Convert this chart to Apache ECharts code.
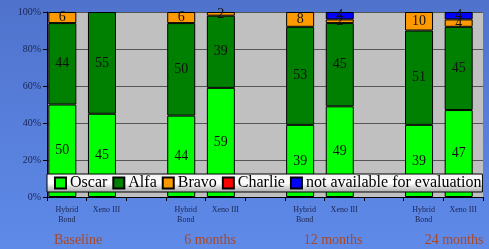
<!DOCTYPE html>
<html>
<head>
<meta charset="utf-8">
<script src="https://cdn.jsdelivr.net/npm/echarts@6/dist/echarts.min.js"></script>
<style>
html, body { margin: 0; padding: 0; }
#chart { width: 489px; height: 249px; }
</style>
</head>
<body>
<div id="chart"></div>
<script>
// categories: two products per time point, empty slot between groups
var categories = ['Hybrid\nBond', 'Xeno III', '', 'Hybrid\nBond', 'Xeno III', '',
                  'Hybrid\nBond', 'Xeno III', '', 'Hybrid\nBond', 'Xeno III'];
var groupNames = ['Baseline', '6 months', '12 months', '24 months'];

var oscar   = [50, 45, null, 44, 59, null, 39, 49, null, 39, 47];
var alfa    = [44, 55, null, 50, 39, null, 53, 45, null, 51, 45];
var bravo   = [6, null, null, 6, 2, null, 8, 2, null, 10, 4];
var charlie = [null, null, null, null, null, null, null, null, null, null, null];
var notAvail = [null, null, null, null, null, null, null, 4, null, null, 4];

var yTicks = [0, 20, 40, 60, 80, 100];

var serif = '"Liberation Serif", "DejaVu Serif", serif';

function barSeries(name, data, color) {
    return {
        name: name,
        type: 'bar',
        stack: 'total',
        barWidth: 28,
        barGap: '0%',
        data: data,
        itemStyle: {
            color: color,
            borderColor: '#000',
            borderWidth: 1
        },
        label: {
            show: true,
            position: 'inside',
            color: '#111',
            fontFamily: serif,
            fontSize: 14
        }
    };
}

function groupLabel(i, x) {
    return {
        type: 'text',
        x: x,
        y: 233,
        style: { text: groupNames[i], align: 'center', font: '14px ' + serif, fill: '#a8482a' }
    };
}

var chart = echarts.init(document.getElementById('chart'));
chart.setOption({
    animation: false,
    backgroundColor: new echarts.graphic.LinearGradient(0, 0, 0, 1, [
        { offset: 0, color: '#4f73cd' },
        { offset: 1, color: '#5f8ae8' }
    ]),
    grid: {
        left: 47,
        right: 6,
        top: 12,
        bottom: 52,
        show: true,
        backgroundColor: '#c0c0c0',
        borderWidth: 0
    },
    legend: {
        data: ['Oscar', 'Alfa', 'Bravo', 'Charlie', 'not available for evaluation'],
        left: 47,
        top: 174,
        z: 10,
        padding: [1, 1, 1, 7],
        itemGap: 5,
        itemWidth: 11,
        itemHeight: 11,
        icon: 'rect',
        backgroundColor: new echarts.graphic.LinearGradient(0, 0, 0, 1, [
            { offset: 0, color: '#f2f2f2' },
            { offset: 0.5, color: '#ffffff' },
            { offset: 1, color: '#a8a8a8' }
        ]),
        borderColor: '#000',
        borderWidth: 1,
        textStyle: {
            fontFamily: serif,
            fontSize: 16,
            color: '#000',
            padding: [0, 0, 0, -1]
        }
    },
    xAxis: {
        type: 'category',
        data: categories,
        axisLine: { lineStyle: { color: '#000', width: 1 } },
        axisTick: { show: true, interval: 0, length: 4, lineStyle: { color: '#000' } },
        axisLabel: {
            interval: 0,
            margin: 8,
            fontFamily: serif,
            fontSize: 8,
            lineHeight: 10,
            color: '#1a2452'
        }
    },
    yAxis: {
        type: 'value',
        min: 0,
        max: 100,
        interval: 20,
        axisLine: { show: true, lineStyle: { color: '#000', width: 1 } },
        axisTick: { show: true, length: 4, lineStyle: { color: '#000' } },
        axisLabel: {
            formatter: function (v) { return yTicks.indexOf(v) >= 0 ? v + '%' : ''; },
            fontFamily: serif,
            fontSize: 10,
            margin: 6,
            color: '#1a2452'
        },
        splitLine: { lineStyle: { color: '#555', width: 1 } }
    },
    series: [
        barSeries('Oscar', oscar, '#00ff00'),
        barSeries('Alfa', alfa, '#008000'),
        barSeries('Bravo', bravo, '#ff9900'),
        barSeries('Charlie', charlie, '#ff0000'),
        barSeries('not available for evaluation', notAvail, '#0000ff'),
        {
            // empty column that pushes the bars to the left of each slot
            name: 'pad',
            type: 'bar',
            stack: 'pad',
            barWidth: 9,
            barGap: '0%',
            data: categories.map(function () { return null; }),
            itemStyle: { color: 'transparent' }
        }
    ],
    graphic: [
        groupLabel(0, 78),
        groupLabel(1, 210),
        groupLabel(2, 333),
        groupLabel(3, 454)
    ]
});
</script>
</body>
</html>
